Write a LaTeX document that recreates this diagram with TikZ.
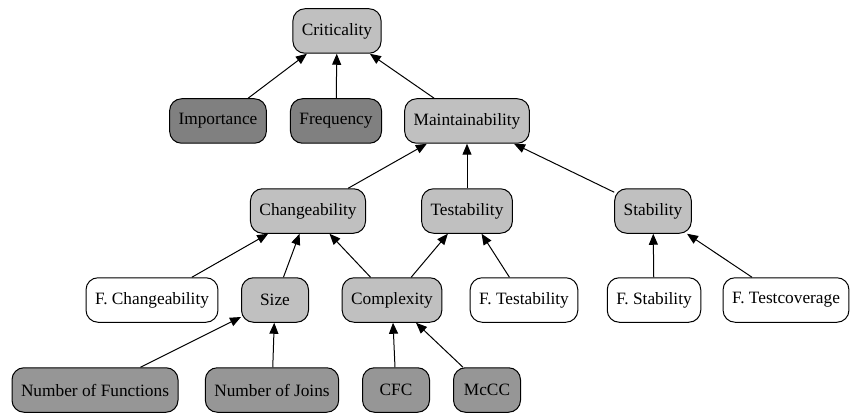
\documentclass[tikz,border=0pt]{standalone}
\usepackage{fontspec}
\setmainfont{Liberation Serif}
\newfontfamily\gvfont{Liberation Serif}
\usetikzlibrary{arrows.meta}
\definecolor{lightgrey}{RGB}{192,192,192}
\definecolor{midgrey}{RGB}{150,150,150}
\definecolor{darkgrey}{RGB}{128,128,128}

\begin{document}
\begin{tikzpicture}[
  x=1pt, y=-1pt,
  box/.style={draw=black, line width=1pt, rounded corners=12pt,
              minimum width=67pt, minimum height=44.5pt, inner xsep=9pt,
              align=center, font=\gvfont\fontsize{17.3}{20}\selectfont},
  inner/.style={box, fill=lightgrey},
  top/.style={box, fill=darkgrey},
  leaf/.style={box, fill=midgrey},
  plain/.style={box, fill=white},
  arrow/.style={-{Triangle[length=11pt,width=9pt]}, line width=1pt}
]
  \useasboundingbox (0,0) rectangle (850,414);

  \node[inner] (crit) at (337,31) {Criticality};

  \node[top]   (imp)  at (218,121) {Importance};
  \node[top]   (freq) at (336,121) {Frequency};
  \node[inner] (main) at (467,121) {Maintainability};

  \node[inner] (chg)  at (308,211) {Changeability};
  \node[inner] (tst)  at (467,211) {Testability};
  \node[inner] (stb)  at (653,211) {Stability};

  \node[plain] (fchg) at (152,300) {F. Changeability};
  \node[inner] (size) at (275,300) {Size};
  \node[inner] (cplx) at (392,300) {Complexity};
  \node[plain] (ftst) at (524,300) {F. Testability};
  \node[plain] (fstb) at (654,300) {F. Stability};
  \node[plain] (fcov) at (786,300) {F. Testcoverage};

  \node[leaf]  (nfun) at (95,390)  {Number of Functions};
  \node[leaf]  (njoi) at (272,390) {Number of Joins};
  \node[leaf]  (cfc)  at (396,390) {CFC};
  \node[leaf]  (mccc) at (487,390) {McCC};

  \draw[arrow] (imp)  -- (crit);
  \draw[arrow] (freq) -- (crit);
  \draw[arrow] (main) -- (crit);

  \draw[arrow] (chg)  -- (main);
  \draw[arrow] (tst)  -- (main);
  \draw[arrow] (stb)  -- (main);

  \draw[arrow] (fchg) -- (chg);
  \draw[arrow] (size) -- (chg);
  \draw[arrow] (cplx) -- (chg);
  \draw[arrow] (cplx) -- (tst);
  \draw[arrow] (ftst) -- (tst);
  \draw[arrow] (fstb) -- (stb);
  \draw[arrow] (fcov) -- (stb);

  \draw[arrow] (nfun) -- (size);
  \draw[arrow] (njoi) -- (size);
  \draw[arrow] (cfc)  -- (cplx);
  \draw[arrow] (mccc) -- (cplx);

\end{tikzpicture}
\end{document}
